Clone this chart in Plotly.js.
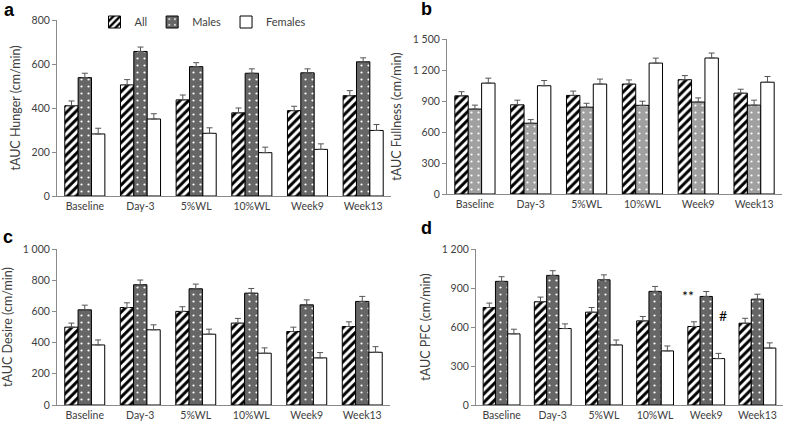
<!DOCTYPE html>
<html>
<head>
<meta charset="utf-8">
<script src="https://cdn.plot.ly/plotly-3.0.1.min.js"></script>
<style>html,body{margin:0;padding:0;background:#fff;}#chart{width:785px;height:424px;}</style>
</head>
<body>
<div id="chart"></div>
<script>
const categories = ["Baseline","Day-3","5%WL","10%WL","Week9","Week13"];
const seriesNames = ["All","Males","Females"];

// Panel a: Hunger
const hungerAll = [410,505,437,378,388,456];
const hungerAllErr = [22,24,22,22,20,23];
const hungerMales = [538,657,588,558,560,610];
const hungerMalesErr = [20,20,18,20,18,18];
const hungerFemales = [282,350,285,197,212,298];
const hungerFemalesErr = [26,24,25,25,25,27];

// Panel b: Fullness
const fullAll = [950,863,954,1064,1106,976];
const fullAllErr = [40,45,42,40,40,38];
const fullMales = [822,685,840,858,890,860];
const fullMalesErr = [38,35,38,40,40,48];
const fullFemales = [1073,1048,1064,1267,1316,1082];
const fullFemalesErr = [48,50,48,48,48,55];

// Panel c: Desire
const desireAll = [499,625,600,525,471,503];
const desireAllErr = [26,30,30,30,28,30];
const desireMales = [610,771,745,717,642,664];
const desireMalesErr = [30,30,30,30,32,32];
const desireFemales = [385,482,454,332,302,338];
const desireFemalesErr = [32,32,32,34,34,36];

// Panel d: PFC
const pfcAll = [750,794,714,647,604,629];
const pfcAllErr = [34,36,36,34,36,38];
const pfcMales = [951,997,963,874,835,814];
const pfcMalesErr = [36,36,38,38,38,38];
const pfcFemales = [547,588,462,416,357,438];
const pfcFemalesErr = [36,36,38,38,40,40];

const yTitles = ["tAUC Hunger (cm/min)","tAUC Fullness (cm/min)","tAUC Desire (cm/min)","tAUC PFC (cm/min)"];
const panelLetters = ["a","b","c","d"];

const FONT = "Lato, 'Open Sans', sans-serif";

function makeTraces(vals, errs, ax, showLegend, maleBg) {
  const patterns = [
    {shape:"/", fgcolor:"#000000", bgcolor:"#ffffff", size:6, solidity:0.5},
    {shape:".", fgcolor:"#ffffff", bgcolor:maleBg, size:7, solidity:0.08},
    {shape:"", bgcolor:"#ffffff"}
  ];
  return vals.map((v,i) => ({
    type:"bar",
    name: seriesNames[i],
    x: categories,
    y: v,
    xaxis: "x"+ax, yaxis: "y"+ax,
    showlegend: showLegend,
    legendgroup: seriesNames[i],
    marker: {
      color: "#ffffff",
      pattern: patterns[i],
      line: {color:"#000000", width:1}
    },
    error_y: {type:"data", symmetric:false, array: errs[i], arrayminus: errs[i].map(()=>0),
              color:"#555555", thickness:1, width:3},
    hoverinfo:"skip"
  }));
}

const data = [].concat(
  makeTraces([hungerAll,hungerMales,hungerFemales],[hungerAllErr,hungerMalesErr,hungerFemalesErr],"",true,"#666666"),
  makeTraces([fullAll,fullMales,fullFemales],[fullAllErr,fullMalesErr,fullFemalesErr],"2",false,"#a0a0a0"),
  makeTraces([desireAll,desireMales,desireFemales],[desireAllErr,desireMalesErr,desireFemalesErr],"3",false,"#666666"),
  makeTraces([pfcAll,pfcMales,pfcFemales],[pfcAllErr,pfcMalesErr,pfcFemalesErr],"4",false,"#666666")
);

const W = 785, H = 424;
function xd(a,b){ return [a/W, b/W]; }
function yd(top,bottom){ return [1-bottom/H, 1-top/H]; }

function xAxis(dom, anchor){
  return {domain: dom, anchor: anchor, type:"category", showline:true, linecolor:"#8a8a8a", linewidth:1,
          ticks:"", showgrid:false, zeroline:false, tickfont:{family:FONT,size:10.5,color:"#404040"}, fixedrange:true};
}
function yAxis(dom, anchor, range, dtick, title){
  return {domain: dom, anchor: anchor, range: range, dtick: dtick, tick0:0, showline:true, linecolor:"#8a8a8a", linewidth:1,
          ticks:"outside", ticklen:4, tickcolor:"#8a8a8a", showgrid:false, zeroline:false,
          separatethousands:true, tickfont:{family:FONT,size:10.5,color:"#404040"},
          title:{text:title, font:{family:FONT,size:12.5,color:"#404040"}, standoff:8}, fixedrange:true};
}

const letterAnn = [[9,10],[426,9],[8,237],[426,228]].map((p,i)=>({
  text: panelLetters[i], xref:"paper", yref:"paper", x:p[0]/W, y:1-p[1]/H,
  xanchor:"center", yanchor:"middle", showarrow:false,
  font:{family:"'Liberation Sans', Arial, sans-serif", size:18, color:"#000", weight:"bold"}
}));

const layout = {
  width: W, height: H,
  margin:{l:0,r:0,t:0,b:0},
  paper_bgcolor:"#ffffff", plot_bgcolor:"#ffffff",
  separators: ". ",
  barmode:"group", bargap:0.28, bargroupgap:0,
  showlegend:true,
  legend:{orientation:"h", x:203/W, y:1-22/H, xanchor:"center", yanchor:"middle",
          font:{family:FONT,size:11,color:"#404040"}, itemwidth:30, bgcolor:"rgba(0,0,0,0)"},
  xaxis: xAxis(xd(57,391),"y"),
  yaxis: yAxis(yd(20,196),"x",[0,800],200,yTitles[0]),
  xaxis2: xAxis(xd(447,782),"y2"),
  yaxis2: yAxis(yd(39,194),"x2",[0,1500],300,yTitles[1]),
  xaxis3: xAxis(xd(57,390),"y3"),
  yaxis3: yAxis(yd(249,405),"x3",[0,1000],200,yTitles[2]),
  xaxis4: xAxis(xd(476,783),"y4"),
  yaxis4: yAxis(yd(249,405),"x4",[0,1200],300,yTitles[3]),
  annotations: letterAnn.concat([
    {text:"**", xref:"x4", yref:"y4", x:"Week9", y:840, xshift:-18, showarrow:false,
     font:{family:FONT,size:14,color:"#000"}, xanchor:"center", yanchor:"middle"},
    {text:"#", xref:"x4", yref:"y4", x:"Week9", y:692, xshift:17, showarrow:false,
     font:{family:FONT,size:14,color:"#000"}, xanchor:"center", yanchor:"middle"}
  ])
};

Plotly.newPlot("chart", data, layout, {displayModeBar:false, staticPlot:true});
</script>
</body>
</html>
